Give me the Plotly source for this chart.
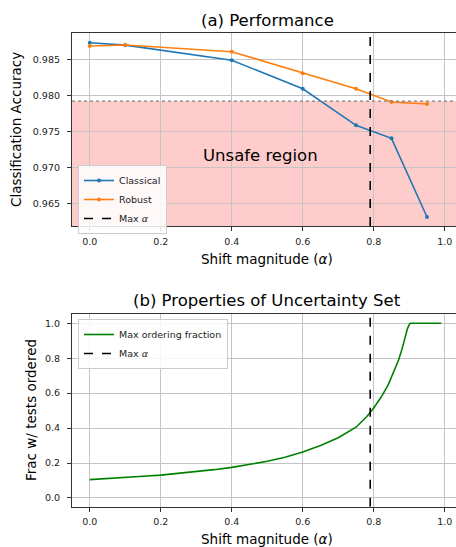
import plotly.graph_objects as go

# ---------------- data ----------------
alpha_classical = [0.0, 0.1, 0.4, 0.6, 0.75, 0.85, 0.95]
acc_classical = [0.98736, 0.98702, 0.98492, 0.98097, 0.97589, 0.97408, 0.96315]

alpha_robust = [0.0, 0.1, 0.4, 0.6, 0.75, 0.85, 0.95]
acc_robust = [0.98690, 0.98704, 0.98611, 0.98311, 0.98097, 0.97912, 0.97884]

safety_threshold = 0.97926
max_alpha = 0.79

alpha_grid = [0.0, 0.05, 0.1, 0.15, 0.2, 0.25, 0.3, 0.35, 0.4, 0.45, 0.5, 0.55,
              0.6, 0.65, 0.7, 0.75, 0.78, 0.8, 0.82, 0.84, 0.86, 0.87, 0.88,
              0.885, 0.89, 0.895, 0.9, 0.903, 0.95, 0.99]
ordering_fraction = [0.105, 0.110, 0.117, 0.124, 0.131, 0.140, 0.150, 0.162,
                     0.175, 0.191, 0.210, 0.233, 0.263, 0.300, 0.345, 0.405,
                     0.465, 0.515, 0.575, 0.645, 0.735, 0.790, 0.855, 0.895,
                     0.935, 0.970, 0.992, 1.0, 1.0, 1.0]

x_ticks = [0.0, 0.2, 0.4, 0.6, 0.8, 1.0]
x_tick_text = ["0.0", "0.2", "0.4", "0.6", "0.8", "1.0"]
y1_ticks = [0.965, 0.970, 0.975, 0.980, 0.985]
y1_tick_text = ["0.965", "0.970", "0.975", "0.980", "0.985"]
y2_ticks = [0.0, 0.2, 0.4, 0.6, 0.8, 1.0]
y2_tick_text = ["0.0", "0.2", "0.4", "0.6", "0.8", "1.0"]

X_RANGE = [-0.05, 1.0317]
Y1_RANGE = [0.9619, 0.98871]
Y2_RANGE = [-0.05, 1.0515]

# ---------------- styles ----------------
FONT = "DejaVu Sans"
BLUE = "#1f77b4"
ORANGE = "#ff7f0e"
GREEN = "#008000"
FRAME = "#333333"
GRID = "#c4c4c4"

fig = go.Figure()

fig.add_trace(go.Scatter(x=alpha_classical, y=acc_classical, mode="lines+markers",
                         name="Classical", line=dict(color=BLUE, width=1.6),
                         marker=dict(size=4, color=BLUE), xaxis="x", yaxis="y",
                         legend="legend"))
fig.add_trace(go.Scatter(x=alpha_robust, y=acc_robust, mode="lines+markers",
                         name="Robust", line=dict(color=ORANGE, width=1.6),
                         marker=dict(size=4, color=ORANGE), xaxis="x", yaxis="y",
                         legend="legend"))
fig.add_trace(go.Scatter(x=[max_alpha, max_alpha], y=Y1_RANGE, mode="lines",
                         name="Max <i>α</i>", line=dict(color="black", width=1.6, dash="dash"),
                         xaxis="x", yaxis="y", legend="legend"))
# dotted threshold line (no legend)
fig.add_trace(go.Scatter(x=X_RANGE, y=[safety_threshold, safety_threshold], mode="lines",
                         showlegend=False, line=dict(color="#7f7f7f", width=1.3, dash="dot"),
                         xaxis="x", yaxis="y", hoverinfo="skip"))

fig.add_trace(go.Scatter(x=alpha_grid, y=ordering_fraction, mode="lines",
                         name="Max ordering fraction", line=dict(color=GREEN, width=1.6),
                         xaxis="x2", yaxis="y2", legend="legend2"))
fig.add_trace(go.Scatter(x=[max_alpha, max_alpha], y=Y2_RANGE, mode="lines",
                         name="Max <i>α</i>", line=dict(color="black", width=1.6, dash="dash"),
                         xaxis="x2", yaxis="y2", legend="legend2"))

# unsafe region fill
fig.add_shape(type="rect", xref="x domain", yref="y", x0=0, x1=1,
              y0=Y1_RANGE[0], y1=safety_threshold, fillcolor="rgba(255,0,0,0.2)",
              line=dict(width=0), layer="below")

W, H = 456, 547
axis_common = dict(showgrid=True, gridcolor=GRID, gridwidth=1, zeroline=False,
                   showline=True, linecolor=FRAME, linewidth=1.2,
                   ticks="outside", ticklen=4, tickwidth=1, tickcolor=FRAME,
                   tickfont=dict(family=FONT, size=9.5, color="#222222"),
                   automargin=False)

fig.update_layout(
    width=W, height=H,
    margin=dict(l=72, r=0, t=0, b=0),
    plot_bgcolor="white", paper_bgcolor="white",
    font=dict(family=FONT, color="black"),
    xaxis=dict(domain=[0, 1], anchor="y", range=X_RANGE, tickvals=x_ticks,
               ticktext=x_tick_text, mirror=True, ticklabelstandoff=2, **axis_common),
    yaxis=dict(domain=[(H - 226) / H, (H - 33) / H], anchor="x", range=Y1_RANGE,
               tickvals=y1_ticks, ticktext=y1_tick_text, mirror=False,
               ticklabelstandoff=5, **axis_common),
    xaxis2=dict(domain=[0, 1], anchor="y2", range=X_RANGE, tickvals=x_ticks,
                ticktext=x_tick_text, mirror=True, ticklabelstandoff=2, **axis_common),
    yaxis2=dict(domain=[(H - 506.7) / H, (H - 314.3) / H], anchor="x2", range=Y2_RANGE,
                tickvals=y2_ticks, ticktext=y2_tick_text, mirror=False,
                ticklabelstandoff=5, **axis_common),
    legend=dict(x=(78 - 72) / (W - 72), y=(H - 165) / H, xref="paper", yref="paper",
                xanchor="left", yanchor="top",
                bgcolor="rgba(255,255,255,0.85)", bordercolor="#cccccc", borderwidth=1,
                font=dict(family=FONT, size=9.5, color="#222222"),
                tracegroupgap=0, itemwidth=30),
    legend2=dict(x=(78 - 72) / (W - 72), y=(H - 319) / H, xref="paper", yref="paper",
                 xanchor="left", yanchor="top",
                 bgcolor="rgba(255,255,255,0.85)", bordercolor="#cccccc", borderwidth=1,
                 font=dict(family=FONT, size=9.5, color="#222222"),
                 tracegroupgap=0, itemwidth=30),
    showlegend=True,
)

cx = (267 - 72) / (W - 72)
annotations = [
    dict(text="(a) Performance", x=cx, y=(H - 20) / H, font=dict(size=16.5)),
    dict(text="(b) Properties of Uncertainty Set", x=cx, y=(H - 300) / H, font=dict(size=16.5)),
    dict(text="Shift magnitude (<i>α</i>)", x=cx, y=(H - 259) / H, font=dict(size=13.5)),
    dict(text="Shift magnitude (<i>α</i>)", x=cx, y=(H - 539) / H, font=dict(size=13.5)),
    dict(text="Classification Accuracy", x=(16 - 72) / (W - 72), y=(H - 130) / H,
         textangle=-90, font=dict(size=13.5)),
    dict(text="Frac w/ tests ordered", x=(31 - 72) / (W - 72), y=(H - 410) / H,
         textangle=-90, font=dict(size=13.5)),
]
for a in annotations:
    fig.add_annotation(xref="paper", yref="paper", showarrow=False,
                       xanchor="center", yanchor="middle",
                       x=a["x"], y=a["y"], text=a["text"], textangle=a.get("textangle", 0),
                       font=dict(family=FONT, color="black", size=a["font"]["size"]))

fig.add_annotation(xref="x", yref="y", x=0.482, y=0.97176, text="Unsafe region",
                   showarrow=False, font=dict(family=FONT, size=16.5, color="black"))

fig.write_html("out.html", config={"displayModeBar": False},
               post_script="document.body.style.margin='0';document.body.style.overflow='hidden';")
